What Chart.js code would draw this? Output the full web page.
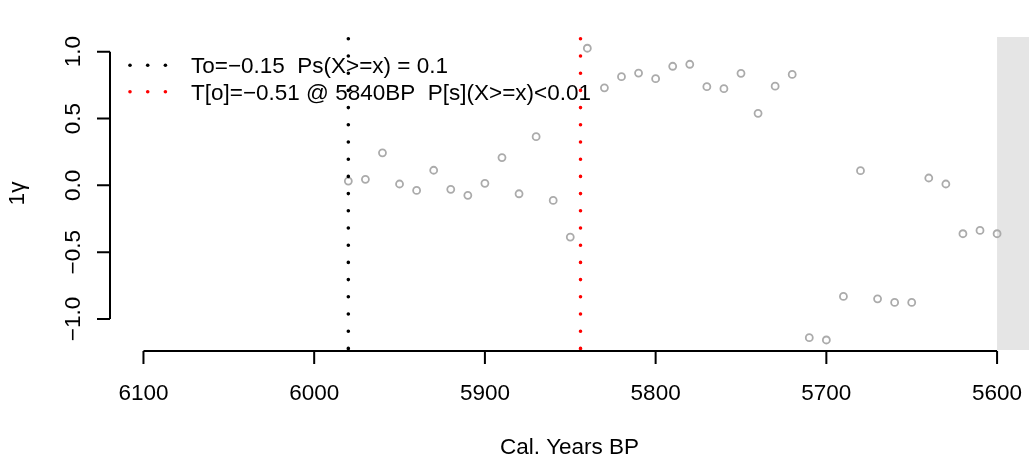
<!DOCTYPE html>
<html>
<head>
<meta charset="utf-8">
<script src="https://cdn.jsdelivr.net/npm/chart.js@4/dist/chart.umd.min.js"></script>
<style>
html,body{margin:0;padding:0;background:#fff;overflow:hidden;}
#wrap{width:1029px;height:457px;position:relative;}
</style>
</head>
<body>
<div id="wrap"><canvas id="c" width="1029" height="457"></canvas></div>
<script>
// ---- data ----
const years = [5980,5970,5960,5950,5940,5930,5920,5910,5900,5890,5880,5870,5860,5850,
               5840,5830,5820,5810,5800,5790,5780,5770,5760,5750,5740,5730,5720,
               5710,5700,5690,5680,5670,5660,5650,5640,5630,5620,5610,5600];
const gammaValues = [0.032,0.045,0.243,0.010,-0.038,0.113,-0.030,-0.075,0.015,0.208,-0.063,0.364,-0.113,-0.387,
                     1.026,0.730,0.813,0.840,0.798,0.891,0.906,0.738,0.723,0.838,0.539,0.742,0.830,
                     -1.140,-1.157,-0.831,0.110,-0.849,-0.876,-0.876,0.055,0.010,-0.362,-0.337,-0.362];
const xTickValues = [6100,6000,5900,5800,5700,5600];
const xTickLabels = ["6100","6000","5900","5800","5700","5600"];
const yTickValues = [-1.0,-0.5,0.0,0.5,1.0];
const yTickLabels = ["\u22121.0","\u22120.5","0.0","0.5","1.0"];
const thresholdYears = [5980, 5844];
const legendLabels = ["To=\u22120.15  Ps(X>=x) = 0.1", "T[o]=\u22120.51 @ 5840BP  P[s](X>=x)<0.01"];
const shadeFromYear = 5600;
const xTitle = "Cal. Years BP";
const yTitle = "1\u03b3";

// axis limits
const X_MIN = 5581.3, X_MAX = 6119.6;
const Y_MIN = -1.232, Y_MAX = 1.110;

const FONT = '22.5px "Liberation Sans", Arial, Helvetica, sans-serif';
const lineColors = ['#000000', '#ff0000'];

const points = years.map((y, i) => ({x: y, y: gammaValues[i]}));

const rPlot = {
  id: 'rPlot',
  beforeDatasetsDraw(chart) {
    const {ctx, chartArea: a, scales: {x, y}} = chart;
    ctx.save();
    // shaded region
    const xs = x.getPixelForValue(shadeFromYear);
    ctx.fillStyle = '#e5e5e5';
    ctx.fillRect(xs, a.top, chart.width - xs, a.bottom - a.top);
    // legend
    ctx.font = FONT;
    ctx.textBaseline = 'alphabetic';
    ctx.textAlign = 'left';
    const rowBase = [73.3, 100];
    const rowDot = [65.3, 91.7];
    legendLabels.forEach((lab, i) => {
      ctx.fillStyle = lineColors[i];
      for (let k = 0; k < 3; k++) {
        ctx.beginPath();
        ctx.arc(130 + k * 17.7, rowDot[i], 1.8, 0, Math.PI * 2);
        ctx.fill();
      }
      ctx.fillStyle = '#000';
      ctx.fillText(lab, 191, rowBase[i]);
    });
    ctx.restore();
  },
  afterDraw(chart) {
    const {ctx, chartArea: a, scales: {x, y}} = chart;
    ctx.save();
    ctx.strokeStyle = '#000';
    ctx.fillStyle = '#000';
    ctx.lineWidth = 2;
    ctx.font = FONT;
    // x axis
    const axY = a.bottom + 1;
    const x0 = x.getPixelForValue(xTickValues[0]);
    const x1 = x.getPixelForValue(xTickValues[xTickValues.length - 1]);
    ctx.beginPath();
    ctx.moveTo(x0, axY); ctx.lineTo(x1, axY);
    xTickValues.forEach(v => {
      const px = x.getPixelForValue(v);
      ctx.moveTo(px, axY); ctx.lineTo(px, axY + 13);
    });
    ctx.stroke();
    ctx.textAlign = 'center';
    ctx.textBaseline = 'alphabetic';
    xTickValues.forEach((v, i) => {
      ctx.fillText(xTickLabels[i], x.getPixelForValue(v), 400);
    });
    ctx.fillText(xTitle, (a.left + chart.width) / 2, 454);
    // y axis
    const axX = a.left;
    const yA = y.getPixelForValue(yTickValues[0]);
    const yB = y.getPixelForValue(yTickValues[yTickValues.length - 1]);
    ctx.beginPath();
    ctx.moveTo(axX, yA); ctx.lineTo(axX, yB);
    yTickValues.forEach(v => {
      const py = y.getPixelForValue(v);
      ctx.moveTo(axX, py); ctx.lineTo(axX - 13, py);
    });
    ctx.stroke();
    yTickValues.forEach((v, i) => {
      ctx.save();
      ctx.translate(80, y.getPixelForValue(v));
      ctx.rotate(-Math.PI / 2);
      ctx.textAlign = 'center';
      ctx.textBaseline = 'alphabetic';
      ctx.fillText(yTickLabels[i], 0, 0);
      ctx.restore();
    });
    ctx.save();
    ctx.translate(24, (a.top + a.bottom) / 2);
    ctx.rotate(-Math.PI / 2);
    ctx.textAlign = 'center';
    ctx.textBaseline = 'alphabetic';
    ctx.fillText(yTitle, 0, 0);
    ctx.restore();
    ctx.restore();
  }
};

const lineDatasets = thresholdYears.map((yr, i) => ({
  type: 'line',
  data: [{x: yr, y: Y_MAX}, {x: yr, y: Y_MIN}],
  borderColor: lineColors[i],
  borderWidth: 3.6,
  borderDash: [0, 17.2],
  borderDashOffset: -1.8,
  borderCapStyle: 'round',
  pointRadius: 0,
  fill: false,
  order: 1
}));

new Chart(document.getElementById('c'), {
  type: 'scatter',
  data: {
    datasets: [{
      data: points,
      pointStyle: 'circle',
      pointRadius: 3.5,
      pointBorderWidth: 1.8,
      pointBorderColor: '#ababab',
      pointBackgroundColor: 'rgba(0,0,0,0)',
      showLine: false,
      order: 2
    }, ...lineDatasets]
  },
  options: {
    responsive: false,
    devicePixelRatio: 1,
    animation: false,
    layout: {autoPadding: false, padding: {left: 110, right: 0, top: 37, bottom: 107}},
    plugins: {legend: {display: false}, tooltip: {enabled: false}},
    scales: {
      x: {type: 'linear', reverse: true, min: X_MIN, max: X_MAX, display: false},
      y: {type: 'linear', min: Y_MIN, max: Y_MAX, display: false}
    }
  },
  plugins: [rPlot]
});
</script>
</body>
</html>
